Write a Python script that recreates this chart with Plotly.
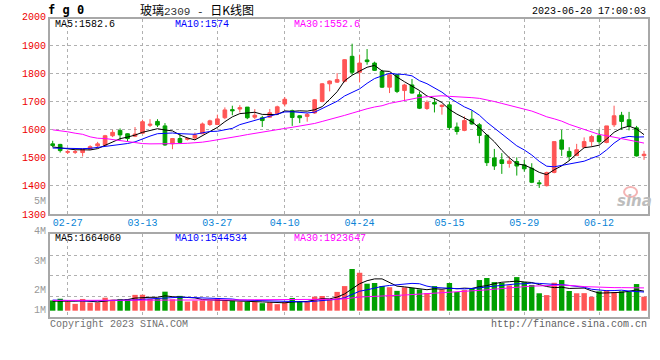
import numpy as np
import plotly.graph_objects as go

# ---------------- data ----------------
dates = ["02-23","02-24","02-27","02-28","03-01","03-02","03-03","03-06","03-07","03-08",
         "03-09","03-10","03-13","03-14","03-15","03-16","03-17","03-20","03-21","03-22",
         "03-23","03-24","03-27","03-28","03-29","03-30","03-31","04-03","04-04","04-06",
         "04-07","04-10","04-11","04-12","04-13","04-14","04-17","04-18","04-19","04-20",
         "04-21","04-24","04-25","04-26","04-27","04-28","05-04","05-05","05-08","05-09",
         "05-10","05-11","05-12","05-15","05-16","05-17","05-18","05-19","05-22","05-23",
         "05-24","05-25","05-26","05-29","05-30","05-31","06-01","06-02","06-05","06-06",
         "06-07","06-08","06-09","06-12","06-13","06-14","06-15","06-16","06-19","06-20"]

opens = [1550,1548,1520,1520,1519,1531,1543,1545,1579,1598,
         1586,1577,1588,1616,1630,1614,1550,1569,1566,1571,
         1586,1619,1619,1643,1672,1674,1681,1645,1643,1645,
         1657,1692,1668,1650,1648,1660,1701,1764,1770,1773,
         1862,1805,1849,1838,1808,1752,1796,1740,1760,1725,
         1676,1697,1683,1689,1610,1598,1638,1618,1581,1500,
         1493,1480,1487,1475,1463,1411,1401,1448,1564,1523,
         1508,1538,1558,1579,1555,1618,1652,1636,1607,1508]
highs = [1561,1550,1528,1530,1533,1545,1557,1582,1600,1605,
         1588,1610,1636,1638,1638,1624,1571,1586,1573,1590,
         1626,1636,1654,1680,1686,1688,1681,1674,1650,1674,
         1686,1717,1672,1652,1660,1710,1767,1776,1802,1852,
         1907,1868,1888,1843,1814,1802,1799,1764,1781,1737,
         1705,1713,1690,1701,1626,1648,1669,1624,1583,1532,
         1517,1505,1502,1493,1481,1421,1451,1558,1600,1538,
         1550,1573,1582,1600,1614,1686,1664,1664,1614,1525]
lows = [1538,1519,1514,1514,1505,1529,1536,1543,1574,1564,
        1558,1574,1586,1610,1610,1543,1531,1550,1562,1564,
        1586,1614,1617,1638,1652,1662,1638,1638,1610,1643,
        1654,1683,1614,1624,1629,1657,1698,1737,1767,1769,
        1796,1769,1832,1810,1749,1731,1731,1704,1729,1674,
        1671,1662,1654,1600,1583,1595,1618,1552,1471,1457,
        1443,1465,1437,1451,1410,1393,1398,1445,1507,1490,
        1507,1535,1540,1550,1552,1610,1600,1598,1505,1493]
closes = [1544,1526,1522,1522,1531,1540,1550,1579,1591,1582,
          1569,1585,1629,1620,1617,1546,1569,1555,1569,1582,
          1621,1632,1639,1671,1668,1679,1643,1652,1633,1661,
          1682,1709,1644,1643,1655,1707,1764,1774,1779,1850,
          1805,1838,1843,1812,1752,1796,1737,1760,1731,1677,
          1698,1692,1688,1608,1594,1633,1621,1580,1483,1471,
          1480,1489,1471,1461,1413,1408,1448,1558,1531,1505,
          1529,1558,1576,1558,1614,1650,1630,1614,1507,1513]
volumes = [860000,1003000,764000,573000,984000,678000,697000,1089000,917000,984000,
           974000,1327000,1337000,984000,993000,1595000,955000,1242000,764000,840000,
           860000,850000,1022000,840000,831000,764000,735000,726000,630000,707000,
           544000,697000,1070000,812000,754000,1175000,1232000,974000,1576000,2063000,
           3495000,3180000,2263000,2321000,2072000,1967000,1662000,1958000,1910000,1786000,
           1480000,2063000,1776000,2321000,1566000,1729000,1900000,2569000,2741000,2397000,
           2321000,2120000,2817000,2397000,2158000,1461000,1308000,2340000,2569000,1652000,
           1461000,1471000,1165000,1624000,1729000,1566000,1624000,1595000,2235000,1175000]

# moving-average values before enough history exists in this window
ma5_head = [1539, 1536, 1531, 1529]
ma10_head = [1535, 1534, 1534, 1533, 1533, 1534, 1537, 1540, 1545]
ma30_head = [1600, 1597, 1593, 1588, 1584, 1575, 1570, 1569, 1565, 1561,
             1557, 1553, 1551, 1550, 1550, 1549, 1550, 1551, 1552, 1553,
             1556, 1560, 1564, 1568, 1573, 1578, 1583, 1587, 1591]
vma5_head = [800000, 790000, 780000, 800000]
vma10_head = [890000, 860000, 840000, 820000, 820000, 820000, 830000, 840000, 850000]
vma30_head = [860000, 860000, 850000, 850000, 850000, 850000, 850000, 850000, 860000, 860000,
              860000, 870000, 870000, 870000, 880000, 880000, 890000, 890000, 890000, 900000,
              900000, 900000, 900000, 910000, 910000, 910000, 910000, 920000, 920000]

x_labels = ["02-27", "03-13", "03-27", "04-10", "04-24", "05-15", "05-29", "06-12"]
price_ticks = [1300, 1400, 1500, 1600, 1700, 1800, 1900]

ma_text = ["MA5:1582.6", "MA10:1574", "MA30:1552.6"]
vma_text = ["MA5:1664060", "MA10:1544534", "MA30:1923647"]
vol_labels = ["5M", "4M", "3M", "2M", "1M"]

# ---------------- helpers ----------------
def moving_average(values, n, head):
    arr = np.asarray(values, dtype=float)
    out = np.empty(len(arr))
    out[:n - 1] = head
    out[n - 1:] = np.convolve(arr, np.ones(n) / n, mode="valid")
    return out

W, H = 660, 360
L, R, T, B = 50, 10, 19, 43
PW, PH = W - L - R, H - T - B

def px(xp):
    return (xp - L) / PW

def py(yp):
    return (H - B - yp) / PH

RED = "#ff5656"
GREEN = "#00a000"
GRID = "#b0b0b0"
BORDER = "#a8a8a8"
MONO = "Liberation Mono"
MA_COLORS = ["#000000", "#0000ff", "#ff00ff"]

ma_price = [moving_average(closes, 5, ma5_head),
            moving_average(closes, 10, ma10_head),
            moving_average(closes, 30, ma30_head)]
ma_vol = [moving_average(volumes, 5, vma5_head),
          moving_average(volumes, 10, vma10_head),
          moving_average(volumes, 30, vma30_head)]

fig = go.Figure()

fig.add_trace(go.Candlestick(
    x=dates, open=opens, high=highs, low=lows, close=closes,
    increasing=dict(line=dict(color=RED, width=1), fillcolor=RED),
    decreasing=dict(line=dict(color=GREEN, width=1), fillcolor=GREEN),
    whiskerwidth=0, showlegend=False, hoverinfo="skip", xaxis="x", yaxis="y"))

for vals, col in zip(ma_price, MA_COLORS):
    fig.add_trace(go.Scatter(x=dates, y=vals, mode="lines", line=dict(color=col, width=1),
                             showlegend=False, hoverinfo="skip", xaxis="x", yaxis="y"))

bar_colors = [RED if c >= o else GREEN for o, c in zip(opens, closes)]
fig.add_trace(go.Bar(x=dates, y=volumes, marker=dict(color=bar_colors, line=dict(width=0)),
                     width=0.72, showlegend=False, hoverinfo="skip", xaxis="x2", yaxis="y2"))

for vals, col in zip(ma_vol, MA_COLORS):
    fig.add_trace(go.Scatter(x=dates, y=vals, mode="lines", line=dict(color=col, width=1),
                             showlegend=False, hoverinfo="skip", xaxis="x2", yaxis="y2"))

# layout geometry
main_bottom_px, vol_top_px = 214.0, 234.3
xr = [-0.36, 79.53]
vol_range = [-528000, 6404000]
vol_grid = [1232000, 2934000, 4644000]

common_x = dict(type="category", range=xr, categoryorder="array", categoryarray=dates,
                tickvals=x_labels, ticktext=x_labels, showgrid=True, gridcolor=GRID,
                griddash="dot", gridwidth=1, ticks="", showline=True, mirror=True,
                linecolor=BORDER, linewidth=2, zeroline=False, fixedrange=True)

fig.update_layout(
    width=W, height=H, margin=dict(l=L, r=R, t=T, b=B),
    paper_bgcolor="white", plot_bgcolor="white",
    xaxis=dict(common_x, domain=[0, 1], anchor="y",
               rangeslider=dict(visible=False), ticklabelstandoff=-2,
               tickfont=dict(family=MONO, size=10, color="#0a84d6")),
    yaxis=dict(domain=[py(main_bottom_px), 1], range=[1300, 1995], tickvals=price_ticks,
               tickfont=dict(family=MONO, size=10, color="#ee0000"), ticks="",
               showgrid=True, gridcolor=GRID, griddash="dot", gridwidth=1,
               showline=True, mirror=True, linecolor=BORDER, linewidth=2,
               zeroline=False, fixedrange=True),
    xaxis2=dict(common_x, domain=[0, 1], anchor="y2", showticklabels=False),
    yaxis2=dict(domain=[0, py(vol_top_px)], range=vol_range, tickvals=vol_grid,
                showticklabels=False, ticks="", showgrid=True, gridcolor=GRID,
                griddash="dot", gridwidth=1, showline=True, mirror=True,
                linecolor=BORDER, linewidth=2, zeroline=False, fixedrange=True),
)

ann = []
def add(text, x, y, anchor="left", size=10, color="#000", family=MONO):
    ann.append(dict(text=text, x=px(x), y=py(y), xref="paper", yref="paper",
                    xanchor=anchor, yanchor="middle", showarrow=False, borderpad=0,
                    font=dict(family=family, size=size, color=color)))

add("<b>f g 0</b>", 47, 10, size=12, family="DejaVu Sans Mono")
add('玻璃<span style="font-family:Liberation Mono;font-size:11px;color:#333">2309 - </span>日K线图',
    139, 9.5, size=12, family="Noto Sans CJK SC")
add("2023-06-20 17:00:03", 649, 11.5, anchor="right")
for i, (t, c) in enumerate(zip(ma_text, MA_COLORS)):
    add(t, 54 + 120 * i, 24.5, color=c)
for i, (t, c) in enumerate(zip(vma_text, MA_COLORS)):
    add(t, 54 + 120 * i, 238.5, color=c)
add("2000", 47, 17.5, anchor="right", color="#ee0000")
for t, yy in zip(vol_labels, [201, 231, 261, 290, 310]):
    add(t, 47, yy, anchor="right", color="#999999")
add("Copyright 2023 SINA.COM", 49, 324, color="#707070")
add("http://finance.sina.com.cn", 650, 324, anchor="right", color="#606060")
add("<b><i>sina</i></b>", 636, 201, anchor="center", size=15, color="#bdbdbd",
    family="DejaVu Sans")
fig.update_layout(annotations=ann)

# small pink eye of the watermark logo
fig.add_shape(type="circle", xref="paper", yref="paper",
              x0=px(626), x1=px(639), y0=py(197), y1=py(187),
              line=dict(color="#f4b4b4", width=2), fillcolor="rgba(0,0,0,0)")

fig.write_html("out.html", config={"displayModeBar": False},
               post_script="document.body.style.margin='0px';")
